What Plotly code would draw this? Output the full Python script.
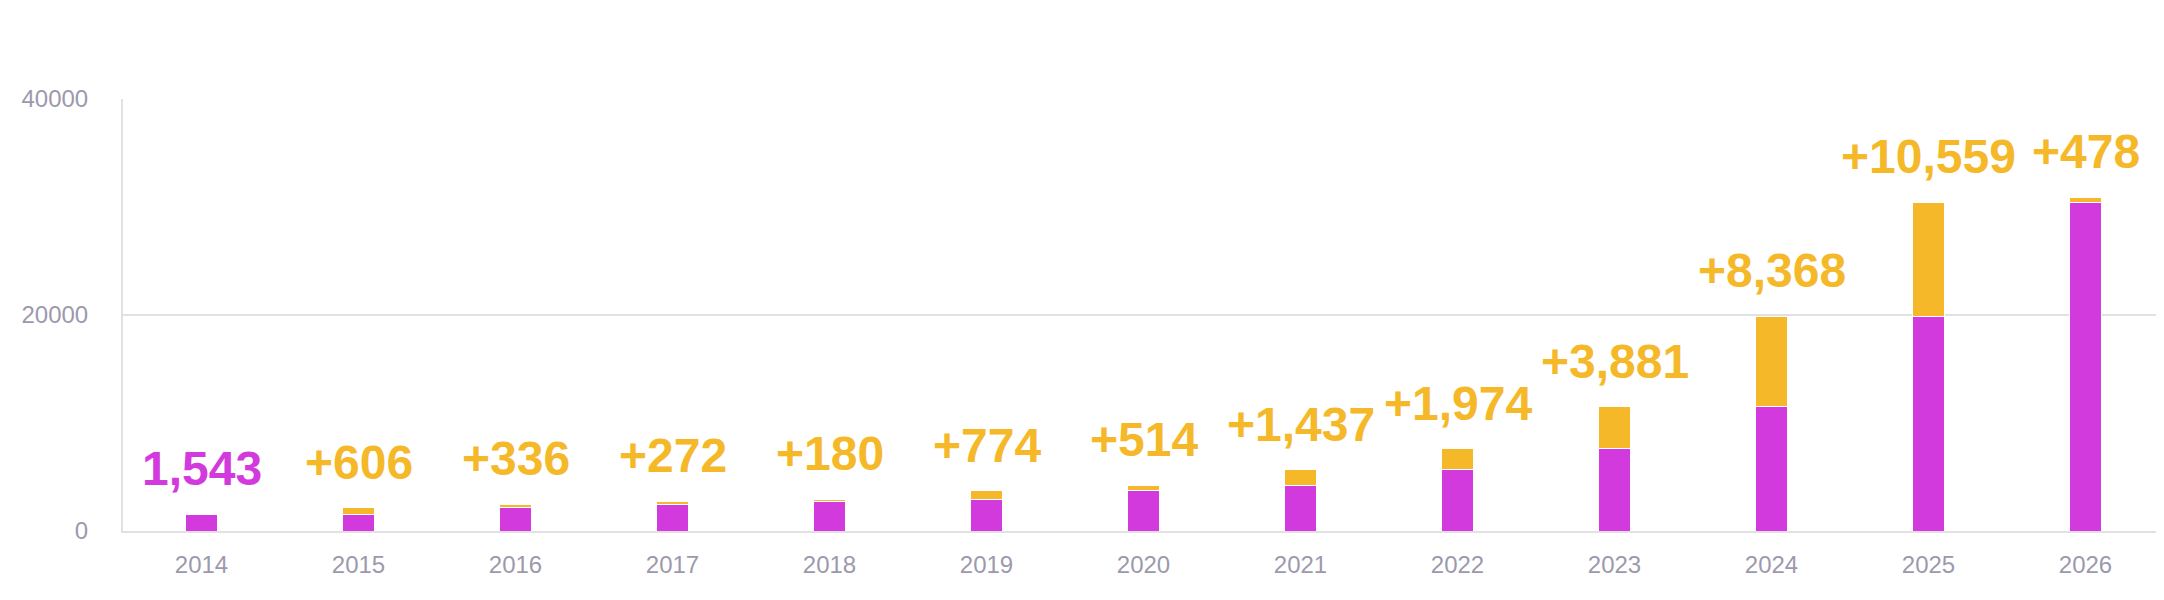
import plotly.graph_objects as go

# años y valores
anios = ["2014", "2015", "2016", "2017", "2018", "2019", "2020",
         "2021", "2022", "2023", "2024", "2025", "2026"]
acumulado_previo = [1543, 1543, 2149, 2485, 2757, 2937, 3711,
                    4225, 5662, 7636, 11517, 19885, 30444]
nuevos = [0, 606, 336, 272, 180, 774, 514,
          1437, 1974, 3881, 8368, 10559, 478]

MORADO = "#D33ADE"
NARANJA = "#F4B829"
GRIS_TEXTO = "#9C99AD"
GRIS_LINEA = "#E1E1E4"

fig = go.Figure()

fig.add_trace(go.Bar(
    x=anios,
    y=acumulado_previo,
    marker=dict(color=MORADO, line=dict(color="white", width=1)),
    hoverinfo="x+y",
    name="Acumulado",
))
fig.add_trace(go.Bar(
    x=anios,
    y=nuevos,
    marker=dict(color=NARANJA, line=dict(color="white", width=1)),
    hoverinfo="x+y",
    name="Nuevos",
))

# etiquetas encima de cada barra (x como índice de categoría)
for i, anio in enumerate(anios):
    total = acumulado_previo[i] + nuevos[i]
    if i == 0:
        texto, color = f"{acumulado_previo[i]:,}", MORADO
    else:
        texto, color = f"+{nuevos[i]:,}", NARANJA
    fig.add_annotation(
        x=i, y=total,
        text=f"<b>{texto}</b>",
        showarrow=False,
        yanchor="bottom",
        yshift=17,
        font=dict(family="Liberation Sans, Arial, sans-serif", size=48, color=color),
    )

# la página tiene 8 px de margen en el body
fig.update_layout(
    barmode="stack",
    bargap=0.79,
    showlegend=False,
    width=2156,
    height=592,
    margin=dict(l=115, r=0, t=91, b=69),
    paper_bgcolor="white",
    plot_bgcolor="white",
    font=dict(family="Liberation Sans, Arial, sans-serif", size=24, color=GRIS_TEXTO),
)

fig.update_xaxes(
    type="category",
    range=[-0.5, len(anios) - 0.5],
    showgrid=False,
    showline=True,
    linecolor=GRIS_LINEA,
    linewidth=2,
    ticks="",
    ticklabelstandoff=11,
    tickfont=dict(size=24, color=GRIS_TEXTO),
)

fig.update_yaxes(
    range=[0, 40000],
    tickvals=[0, 20000, 40000],
    tickformat="d",
    showgrid=True,
    gridcolor=GRIS_LINEA,
    gridwidth=2,
    zeroline=False,
    showline=True,
    linecolor=GRIS_LINEA,
    linewidth=2,
    ticks="",
    ticklabelstandoff=28,
    tickfont=dict(size=24, color=GRIS_TEXTO),
)

fig.write_html("out.html")
